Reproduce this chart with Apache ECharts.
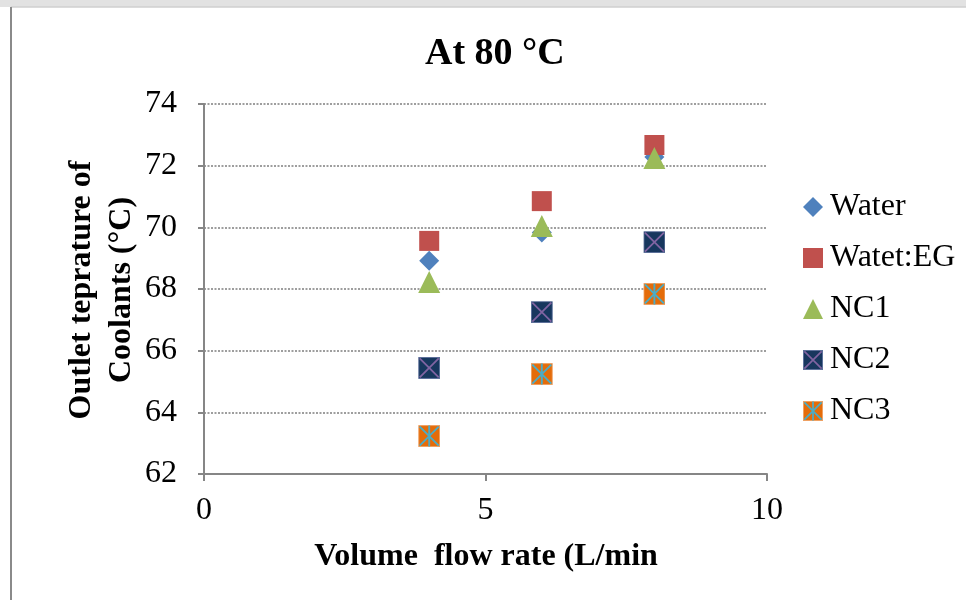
<!DOCTYPE html>
<html>
<head>
<meta charset="utf-8">
<script src="https://cdn.jsdelivr.net/npm/echarts@6/dist/echarts.min.js"></script>
<style>
html,body{margin:0;padding:0;background:#fff;}
#chart{width:966px;height:600px;}
</style>
</head>
<body>
<div id="chart"></div>
<script>
// ---- data ----
var flowRates = [4, 6, 8];
var seriesNames = ['Water', 'Watet:EG', 'NC1', 'NC2', 'NC3'];
var water = [68.92, 69.83, 72.28];
var waterEG = [69.56, 70.85, 72.67];
var nc1 = [68.23, 70.04, 72.25];
var nc2 = [65.44, 67.25, 69.52];
var nc3 = [63.23, 65.24, 67.84];
var yTicks = [62, 64, 66, 68, 70, 72, 74];
var xTicks = [0, 5, 10];

function svgIcon(svg) {
  return 'image://data:image/svg+xml;utf8,' + encodeURIComponent(svg);
}
var nc2Icon = svgIcon('<svg xmlns="http://www.w3.org/2000/svg" width="44" height="44" viewBox="0 0 22 22">' +
  '<rect x="0.5" y="0.5" width="21" height="21" fill="#17375E" stroke="#5B6E9A" stroke-width="1"/>' +
  '<path d="M1.5 1.5 L20.5 20.5 M20.5 1.5 L1.5 20.5" stroke="#8064A2" stroke-width="1.8"/></svg>');
var nc3Icon = svgIcon('<svg xmlns="http://www.w3.org/2000/svg" width="44" height="44" viewBox="0 0 22 22">' +
  '<rect x="0.5" y="0.5" width="21" height="21" fill="#E46C0A" stroke="#F0A060" stroke-width="1"/>' +
  '<path d="M1.5 1.5 L20.5 20.5 M20.5 1.5 L1.5 20.5 M11 0.5 L11 21.5" stroke="#4BACC6" stroke-width="1.9"/></svg>');

function pairs(ys) { return flowRates.map(function (x, i) { return [x, ys[i]]; }); }

var font = 'Liberation Serif';
var chart = echarts.init(document.getElementById('chart'), null, {renderer: 'canvas'});
chart.setOption({
  backgroundColor: '#ffffff',
  animation: false,
  title: {
    text: 'At 80 °C',
    left: 420,
    top: 30,
    textStyle: {fontFamily: font, fontSize: 38, fontWeight: 'bold', color: '#000'}
  },
  grid: {left: 204, right: 199, top: 104, bottom: 126, containLabel: false},
  xAxis: {
    type: 'value', min: xTicks[0], max: xTicks[xTicks.length - 1], interval: 5,
    axisLine: {show: true, lineStyle: {color: '#868686', width: 2}},
    axisTick: {show: true, inside: false, length: 7, lineStyle: {color: '#868686', width: 2}},
    axisLabel: {fontFamily: font, fontSize: 32, color: '#000', margin: 21},
    splitLine: {show: false}
  },
  yAxis: {
    type: 'value', min: yTicks[0], max: yTicks[yTicks.length - 1], interval: 2,
    axisLine: {show: true, lineStyle: {color: '#868686', width: 2}},
    axisTick: {show: true, inside: false, length: 6, lineStyle: {color: '#868686', width: 2}},
    axisLabel: {fontFamily: font, fontSize: 32, color: '#000', margin: 27},
    splitLine: {show: true, lineStyle: {color: '#7f7f7f', width: 1.5, type: [2, 1.5]}}
  },
  legend: {
    orient: 'vertical',
    left: 798, top: 186,
    itemWidth: 20, itemHeight: 20,
    itemGap: 19,
    textStyle: {fontFamily: font, fontSize: 32, color: '#000', padding: [0, 0, 0, 2]},
    data: [
      {name: 'Water', icon: 'diamond'},
      {name: 'Watet:EG', icon: 'rect'},
      {name: 'NC1', icon: 'triangle'},
      {name: 'NC2', icon: nc2Icon},
      {name: 'NC3', icon: nc3Icon}
    ]
  },
  graphic: [
    {type: 'rect', shape: {x: 0, y: 0, width: 966, height: 7}, style: {fill: '#e2e2e2'}, silent: true},
    {type: 'line', shape: {x1: 11, y1: 7, x2: 966, y2: 7}, style: {stroke: '#cfcfcf', lineWidth: 1.5}, silent: true},
    {type: 'line', shape: {x1: 11, y1: 7, x2: 11, y2: 600}, style: {stroke: '#8a8a8a', lineWidth: 2}, silent: true},
    {
      type: 'text', x: 102, y: 290, rotation: Math.PI / 2,
      style: {text: 'Outlet teprature of\nCoolants (°C)', fontFamily: font, fontSize: 32, fontWeight: 'bold',
        fill: '#000', align: 'center', verticalAlign: 'middle', lineHeight: 40}
    },
    {
      type: 'text', x: 486, y: 557,
      style: {text: 'Volume  flow rate (L/min', fontFamily: font, fontSize: 32, fontWeight: 'bold',
        fill: '#000', align: 'center', verticalAlign: 'middle'}
    }
  ],
  series: [
    {name: seriesNames[0], type: 'scatter', symbol: 'diamond', symbolSize: [20, 20], itemStyle: {color: '#4F81BD', opacity: 1}, data: pairs(water)},
    {name: seriesNames[1], type: 'scatter', symbol: 'rect', symbolSize: [20, 20], itemStyle: {color: '#C0504D', opacity: 1}, data: pairs(waterEG)},
    {name: seriesNames[2], type: 'scatter', symbol: 'triangle', symbolSize: [22, 22], itemStyle: {color: '#9BBB59', opacity: 1}, data: pairs(nc1)},
    {name: seriesNames[3], type: 'scatter', symbol: nc2Icon, symbolSize: [22, 22], itemStyle: {color: '#17375E', opacity: 1}, data: pairs(nc2)},
    {name: seriesNames[4], type: 'scatter', symbol: nc3Icon, symbolSize: [22, 22], itemStyle: {color: '#E46C0A', opacity: 1}, data: pairs(nc3)}
  ]
});
</script>
</body>
</html>
